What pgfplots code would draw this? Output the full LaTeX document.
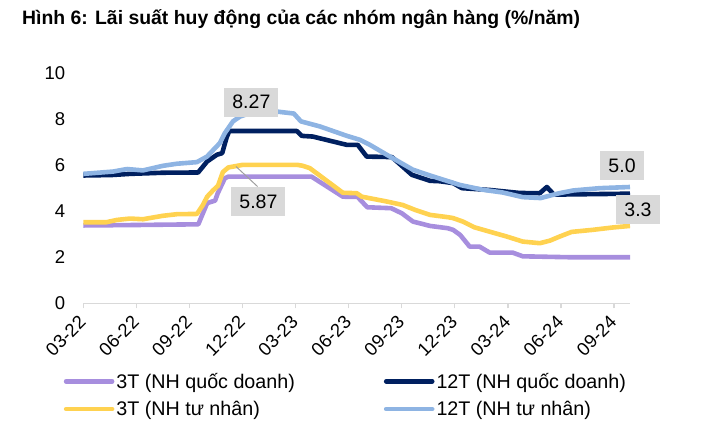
\documentclass[border=0pt]{standalone}
\usepackage{fontspec}
\setmainfont{Liberation Sans}
\usepackage{pgfplots}
\pgfplotsset{compat=1.18}
\definecolor{cPur}{RGB}{167,142,222}
\definecolor{cNavy}{RGB}{0,32,96}
\definecolor{cYel}{RGB}{255,210,80}
\definecolor{cLb}{RGB}{142,180,227}
\definecolor{axgray}{RGB}{217,217,217}
\definecolor{boxgray}{RGB}{217,217,217}
\begin{document}
\begin{tikzpicture}
\begin{axis}[
  anchor=south west,
  scale only axis, width=546.7pt, height=230.3pt,
  xmin=0, xmax=30.9, ymin=0, ymax=10,
  clip=false,
  axis x line*=bottom, axis y line*=left,
  x axis line style={axgray, line width=1.5pt, -},
  y axis line style={draw=none},
  xtick={0,3,...,30},
  xticklabels={03-22,06-22,09-22,12-22,03-23,06-23,09-23,12-23,03-24,06-24,09-24},
  ytick={0,2,...,10},
  tick align=outside,
  major tick length=5pt,
  x tick style={axgray, line width=1.2pt},
  y tick style={draw=none},
  /pgf/number format/assume math mode=true,
  yticklabel style={font=\fontsize{18.5}{20}\selectfont, anchor=east, inner sep=0pt, xshift=-13pt},
  xticklabel style={font=\fontsize{18.5}{20}\selectfont, rotate=45, anchor=east, inner sep=0pt, xshift=-8pt, yshift=-7pt},
  legend columns=2,
  legend cell align=left,
  legend image code/.code={\draw[#1, line cap=round] (0pt,0pt) -- (46pt,0pt);},
  legend style={draw=none, fill=none, at={(axis description cs:-0.036,-0.293)}, anchor=north west,
    font=\fontsize{19.7}{22}\selectfont, inner sep=0pt, row sep=7.5pt,
    nodes={inner sep=2pt},
    /tikz/every even column/.append style={column sep=87pt}},
  every axis plot/.append style={line width=4.6pt, line join=round},
]
\addplot[cPur] coordinates {
(0,3.38) (3,3.40) (6.5,3.43) (7.0,4.35) (7.45,4.46) (7.6,4.78) (8.0,5.43) (8.2,5.5) (12.9,5.5)
(14.67,4.63) (15.5,4.62) (16.05,4.17) (17.4,4.13) (18.0,3.91) (18.63,3.55) (19.6,3.36) (20.6,3.26)
(20.9,3.19) (21.3,2.97) (21.84,2.46) (22.4,2.46) (22.97,2.2) (24.27,2.2) (24.84,2.04) (27.5,2.0) (30.9,2.0)
};
\addlegendentry{3T (NH quốc doanh)}
\addplot[cNavy] coordinates {
(0,5.55) (1.6,5.57) (2.64,5.62) (4.5,5.67) (6.49,5.68) (7.0,6.16) (7.55,6.45) (7.85,6.52) (8.1,7.2) (8.25,7.48)
(12.07,7.48) (12.35,7.27) (12.97,7.24) (14.89,6.88) (15.51,6.88) (16.02,6.37) (17.44,6.35) (18.57,5.58)
(19.59,5.32) (20.15,5.3) (20.9,5.22) (21.4,5.0) (22.98,4.92) (24.67,4.79) (25.8,4.78) (26.2,5.05) (26.6,4.72) (30.9,4.76)
};
\addlegendentry{12T (NH quốc doanh)}
\addplot[cYel] coordinates {
(0,3.52) (1.3,3.52) (1.9,3.62) (2.64,3.68) (3.37,3.65) (4.5,3.8) (5.3,3.87) (6.42,3.88) (6.76,4.27) (7.0,4.63)
(7.33,4.9) (7.61,5.1) (7.89,5.7) (8.2,5.9) (9.0,6.01) (12.1,6.01) (12.41,5.97) (12.8,5.87) (14.67,4.8) (15.46,4.78)
(15.74,4.63) (17.15,4.42) (18.05,4.27) (18.74,4.06) (19.59,3.84) (20.6,3.74) (20.9,3.7) (21.45,3.55) (22.1,3.3)
(22.97,3.11) (23.93,2.9) (24.84,2.68) (25.8,2.61) (26.37,2.72) (26.93,2.9) (27.6,3.1) (28.8,3.19) (29.9,3.29) (30.9,3.36)
};
\addlegendentry{3T (NH tư nhân)}
\addplot[cLb] coordinates {
(0,5.62) (1.68,5.72) (2.47,5.83) (3.37,5.77) (4.5,5.97) (5.29,6.06) (6.42,6.13) (6.99,6.37) (7.72,6.96) (8.0,7.39)
(8.46,7.9) (8.86,8.11) (9.5,8.28) (11.0,8.32) (11.9,8.24) (12.3,7.9) (13.37,7.68) (14.9,7.27) (15.63,7.1) (16.2,6.88)
(17.33,6.37) (18.63,5.8) (19.76,5.51) (21.28,5.14) (22.58,4.93) (23.71,4.81) (24.84,4.61) (25.85,4.57) (26.9,4.78)
(27.7,4.9) (29.2,5.0) (30.9,5.05)
};
\addlegendentry{12T (NH tư nhân)}
\draw[gray!75, line width=1pt] (axis cs:8.63,5.94) -- (axis cs:9.85,5.07);
\node[fill=boxgray, inner xsep=8pt, inner ysep=0pt, minimum height=29pt, font=\fontsize{19.5}{22}\selectfont] at (axis cs:9.5,8.73) {8.27};
\node[fill=boxgray, inner xsep=8pt, inner ysep=0pt, minimum height=29pt, font=\fontsize{19.5}{22}\selectfont] at (axis cs:9.9,4.41) {5.87};
\node[fill=boxgray, inner xsep=8pt, inner ysep=0pt, minimum height=29pt, font=\fontsize{19.5}{22}\selectfont] at (axis cs:30.45,5.97) {5.0};
\node[fill=boxgray, inner xsep=8pt, inner ysep=0pt, minimum height=29pt, font=\fontsize{19.5}{22}\selectfont] at (axis cs:31.35,4.08) {3.3};
\end{axis}
\node[anchor=base west, font=\fontsize{19.4}{22}\selectfont\bfseries, inner sep=0pt] at ([shift={(-61.3pt,278.3pt)}]current axis.south west) {Hình 6: Lãi suất huy động của các nhóm ngân hàng (\%/năm)};
\pgfresetboundingbox
\path[use as bounding box] ([shift={(-83.3pt,-127.7pt)}]current axis.south west) rectangle ++(714pt,431pt);
\end{tikzpicture}
\end{document}
